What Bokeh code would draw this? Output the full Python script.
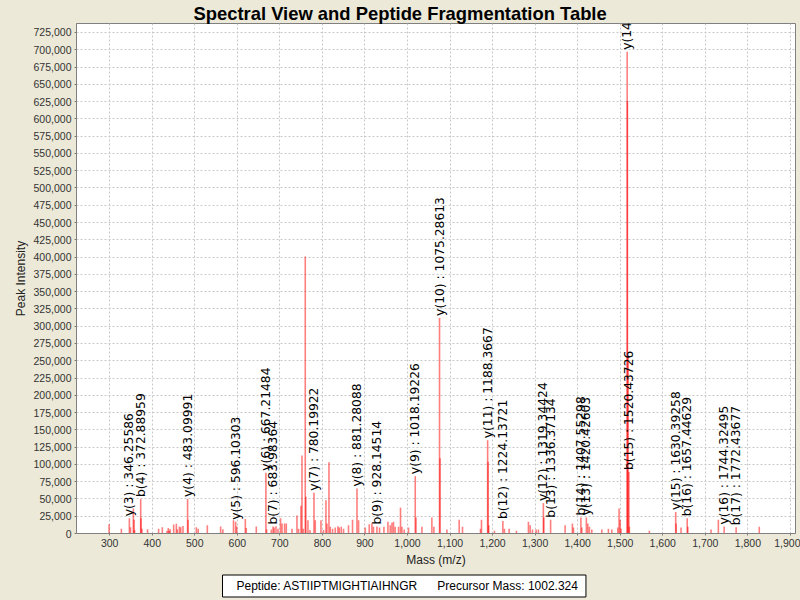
import numpy as np
from bokeh.plotting import figure
from bokeh.models import SingleIntervalTicker, NumeralTickFormatter, Title, Range1d, ColumnDataSource
from bokeh.core.properties import value
from bokeh.embed import file_html
from bokeh.resources import INLINE

# ---- data (m/z, intensity) ----
peak_mz = [298.6, 327.5, 346.26, 349.0, 355.6, 357.3, 358.5, 372.89, 373.6, 375.8, 389.0,
           415.0, 423.7, 434.7, 437.8, 440.0, 442.0, 450.4, 456.7, 459.0, 463.9, 467.0,
           472.3, 483.10, 484.2, 503.7, 508.0, 529.5, 560.8, 566.0, 591.0, 596.10, 598.5,
           618.8, 621.0, 644.6, 667.21, 668.8, 679.9, 683.98, 686.5, 690.9, 695.6, 701.7,
           705.0, 711.1, 715.1, 728.5, 740.2, 744.0, 749.6, 752.0, 755.0, 759.7, 761.0,
           766.0, 770.8, 780.20, 783.2, 796.6, 802.7, 808.3, 810.7, 815.4, 818.5, 823.9,
           830.2, 836.5, 839.6, 844.3, 849.7, 861.4, 870.8, 881.28, 885.0, 900.7, 910.1,
           916.4, 920.0, 928.15, 934.3, 944.6, 954.0, 959.4, 963.4, 967.1, 971.0, 979.0,
           983.6, 986.9, 992.3, 1002.4, 1018.19, 1020.0, 1033.9, 1057.3, 1062.0, 1075.29,
           1076.5, 1092.6, 1121.5, 1129.3, 1171.6, 1173.9, 1188.37, 1189.5, 1191.0, 1204.4,
           1224.14, 1227.9, 1238.9, 1256.1, 1284.3, 1288.3, 1293.7, 1302.4, 1307.8, 1319.34,
           1320.4, 1336.37, 1370.5, 1387.6, 1390.0, 1407.55, 1409.7, 1420.43, 1423.8, 1427.6,
           1433.2, 1456.7, 1472.3, 1480.2, 1494.3, 1497.3, 1499.8, 1502.0, 1516.41, 1516.9,
           1518.6, 1520.44, 1521.5, 1568.5, 1630.39, 1631.5, 1643.0, 1657.45, 1658.9, 1713.5,
           1730.7, 1744.32, 1772.44, 1826.9]
peak_int = [13500, 6700, 22000, 9000, 36000, 20000, 5000, 50000, 22000, 7000, 6000,
            7000, 9000, 4000, 8000, 4000, 6000, 13000, 14000, 6000, 10000, 9000,
            11000, 50000, 20000, 9000, 7000, 12000, 10000, 6000, 19000, 17000, 10000,
            21000, 8000, 10000, 88000, 6000, 5700, 10000, 8600, 10600, 7000, 22000,
            14600, 14600, 14600, 7000, 26000, 7000, 40000, 113000, 7000, 401000, 53000,
            19000, 5000, 59000, 19000, 19000, 5000, 48000, 14600, 103000, 9600, 7000,
            8600, 10600, 8600, 9600, 7000, 12000, 20000, 65000, 19000, 8600, 13500,
            14600, 9600, 10000, 8600, 9600, 17000, 12000, 15600, 17000, 9600, 9600,
            37500, 9600, 5700, 8600, 83000, 23000, 9600, 23000, 9600, 312000,
            109000, 5700, 20000, 9600, 7000, 20000, 135000, 104000, 12000, 4000,
            18000, 7000, 7000, 4000, 17000, 12000, 5700, 5700, 5700, 44000,
            23000, 20000, 12000, 14600, 8600, 23000, 8600, 23000, 14600, 9600,
            5700, 5700, 7000, 5700, 8600, 36000, 20000, 7000, 697000, 626000,
            257000, 89000, 9600, 4000, 31000, 14600, 8600, 22000, 9600, 5700,
            20000, 10000, 9000, 9600]

ann_text = ["y(3) : 346.25586", "b(4) : 372.88959", "y(4) : 483.09991", "y(5) : 596.10303",
            "y(6) : 667.21484", "b(7) : 683.98364", "y(7) : 780.19922", "y(8) : 881.28088",
            "b(9) : 928.14514", "y(9) : 1018.19226", "y(10) : 1075.28613", "y(11) : 1188.3667",
            "b(12) : 1224.13721", "y(12) : 1319.34424", "b(13) : 1336.37134", "b(14) : 1407.55298",
            "y(13) : 1420.42603", "y(14)", "b(15) : 1520.43726", "y(15) : 1630.39258",
            "b(16) : 1657.44629", "y(16) : 1744.32495", "b(17) : 1772.43677"]
ann_mz = [346.26, 372.89, 483.10, 596.10, 667.21, 683.98, 780.20, 881.28, 928.15, 1018.19,
          1075.29, 1188.37, 1224.14, 1319.34, 1336.37, 1407.55, 1420.43, 1516.41, 1520.44,
          1630.39, 1657.45, 1744.32, 1772.44]
ann_int = [22000, 50000, 50000, 17000, 88000, 10000, 59000, 65000, 10000, 83000,
           312000, 135000, 18000, 44000, 20000, 23000, 23000, 697000, 89000,
           31000, 22000, 10000, 9000]

title_text = "Spectral View and Peptide Fragmentation Table"
info_text = "\u00a0\u00a0\u00a0Peptide: ASTIIPTMIGHTIAIHNGR\u00a0\u00a0\u00a0\u00a0\u00a0\u00a0Precursor Mass: 1002.324\u00a0"

BEIGE = "#ECE9D8"

p = figure(width=800, height=600, output_backend="svg", toolbar_location=None,
           x_range=Range1d(222, 1912), y_range=Range1d(0, 738000),
           min_border_left=76, min_border_right=5, min_border_top=22, min_border_bottom=67)
p.background_fill_color = "white"
p.border_fill_color = BEIGE
p.outline_line_color = "#808080"

p.title.text = title_text
p.title.text_font = "Liberation Sans"
p.title.text_font_size = "18.4px"
p.title.text_font_style = "bold"
p.title.text_color = "black"
p.title.align = "left"
p.title.offset = 117
p.title.standoff = 0

p.segment(x0=peak_mz, y0=[0] * len(peak_mz), x1=peak_mz, y1=peak_int,
          line_color="#ff0000", line_alpha=0.5, line_width=1.6)

src = ColumnDataSource(dict(x=ann_mz, y=ann_int, t=ann_text))
p.text(x="x", y="y", text="t", source=src, angle=np.pi / 2, text_align="left",
       text_baseline="middle", y_offset=-2, text_font=value("DejaVu Sans"),
       text_font_size="12.3px", text_color="black")

for ax in (p.xaxis[0], p.yaxis[0]):
    ax.formatter = NumeralTickFormatter(format="0,0")
    ax.major_label_text_font = "Liberation Sans"
    ax.major_label_text_font_size = "10.5px"
    ax.major_label_text_color = "#333333"
    ax.axis_label_text_font = "Liberation Sans"
    ax.axis_label_text_font_size = "12px"
    ax.axis_label_text_font_style = "normal"
    ax.axis_label_text_color = "#222222"
    ax.axis_line_color = "#808080"
    ax.major_tick_line_color = "#808080"
    ax.major_tick_out = 2
    ax.major_tick_in = 0
    ax.minor_tick_line_color = None
    ax.major_label_standoff = 1
    ax.axis_label_standoff = 3

p.xaxis[0].ticker = SingleIntervalTicker(interval=100)
p.yaxis[0].ticker = SingleIntervalTicker(interval=25000)
p.xaxis[0].axis_label = "Mass (m/z)"
p.yaxis[0].axis_label = "Peak Intensity"

p.xgrid.grid_line_color = "#c8c8c8"
p.ygrid.grid_line_color = "#c8c8c8"
p.xgrid.grid_line_dash = "2 2"
p.ygrid.grid_line_dash = "2 2"

info = Title(text=info_text, align="left", offset=146, text_font="Liberation Sans",
             text_font_size="12px", text_font_style="normal", text_color="black",
             border_line_color="black", background_fill_color="white", padding=4, standoff=7)
p.add_layout(info, "below")

html = file_html(p, INLINE)
html = html.replace("</head>", "<style>html,body{background:%s;}</style></head>" % BEIGE, 1)
open("out.html", "w").write(html)
